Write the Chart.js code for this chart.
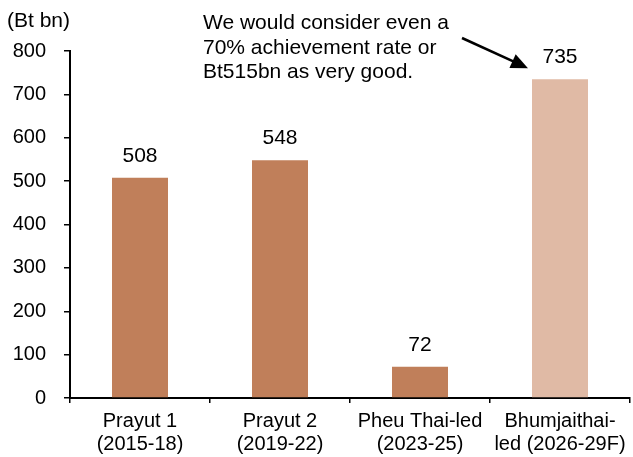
<!DOCTYPE html>
<html>
<head>
<meta charset="utf-8">
<script src="https://cdn.jsdelivr.net/npm/chart.js@4/dist/chart.umd.min.js"></script>
<style>
  html, body { margin: 0; padding: 0; background: #fff; }
  #wrap { width: 633px; height: 457px; }
</style>
</head>
<body>
<div id="wrap"><canvas id="canvas" width="633" height="457"></canvas></div>
<script>
var categories = [["Prayut 1", "(2015-18)"], ["Prayut 2", "(2019-22)"], ["Pheu Thai-led", "(2023-25)"], ["Bhumjaithai-", "led (2026-29F)"]];
var budgetValues = [508, 548, 72, 735];
var barColors = ["#C07F5A", "#C07F5A", "#C07F5A", "#E0BAA5"];
var yTicks = [0, 100, 200, 300, 400, 500, 600, 700, 800];
var noteLines = ["We would consider even a", "70% achievement rate or", "Bt515bn as very good."];
var unitLabel = "(Bt bn)";

var FONT = "'Liberation Sans', Arial, sans-serif";

// value labels, unit label, note and arrow
var extrasPlugin = {
    id: "extras",
    afterDatasetsDraw: function (chart) {
        var ctx = chart.ctx;
        var meta = chart.getDatasetMeta(0);
        ctx.save();
        ctx.fillStyle = "#000";
        ctx.font = "21px " + FONT;
        ctx.textAlign = "center";
        ctx.textBaseline = "alphabetic";
        meta.data.forEach(function (bar, i) {
            ctx.fillText(String(budgetValues[i]), bar.x, bar.y - 16);
        });

        ctx.textAlign = "left";
        ctx.fillText(unitLabel, 7, 27);

        noteLines.forEach(function (line, i) {
            ctx.fillText(line, 203, 29 + i * 24.5);
        });

        // arrow pointing at the last bar's label
        var last = meta.data[meta.data.length - 1];
        var x1 = 462, y1 = 38;
        var x2 = last.x - 32, y2 = last.y - 11;
        var ang = Math.atan2(y2 - y1, x2 - x1);
        var c = Math.cos(ang), s = Math.sin(ang);
        ctx.strokeStyle = "#000";
        ctx.lineWidth = 2.5;
        ctx.beginPath();
        ctx.moveTo(x1, y1);
        ctx.lineTo(x2 - 12 * c, y2 - 12 * s);
        ctx.stroke();
        ctx.beginPath();
        ctx.moveTo(x2, y2);
        ctx.lineTo(x2 - 17 * c + 7.5 * s, y2 - 17 * s - 7.5 * c);
        ctx.lineTo(x2 - 17 * c - 7.5 * s, y2 - 17 * s + 7.5 * c);
        ctx.closePath();
        ctx.fillStyle = "#000";
        ctx.fill();
        ctx.restore();
    }
};

var ctx = document.getElementById("canvas").getContext("2d");
var myChart = new Chart(ctx, {
    type: "bar",
    data: {
        labels: categories,
        datasets: [{
            data: budgetValues,
            backgroundColor: barColors,
            borderWidth: 0,
            barPercentage: 0.4,
            categoryPercentage: 1.0
        }]
    },
    options: {
        responsive: false,
        animation: false,
        events: [],
        layout: { padding: { top: 51, right: 3, left: 0, bottom: 0 } },
        plugins: {
            legend: { display: false },
            tooltip: { enabled: false }
        },
        scales: {
            x: {
                grid: {
                    display: true,
                    offset: true,
                    drawOnChartArea: false,
                    drawTicks: true,
                    tickLength: 5,
                    color: "#000",
                    lineWidth: 1.5
                },
                border: { display: true, color: "#000", width: 2 },
                ticks: {
                    color: "#000",
                    font: { family: FONT, size: 20, lineHeight: 1.15 },
                    maxRotation: 0,
                    autoSkip: false,
                    padding: 7
                },
                afterFit: function (scale) { scale.height = 59; }
            },
            y: {
                min: 0,
                max: 800,
                afterBuildTicks: function (scale) {
                    scale.ticks = yTicks.map(function (v) { return { value: v }; });
                },
                grid: {
                    display: true,
                    drawOnChartArea: false,
                    drawTicks: true,
                    tickLength: 6,
                    color: "#000",
                    lineWidth: 1.5
                },
                border: { display: true, color: "#000", width: 2 },
                ticks: {
                    color: "#000",
                    font: { family: FONT, size: 20 },
                    padding: 18
                },
                afterFit: function (scale) { scale.width = 70; }
            }
        }
    },
    plugins: [extrasPlugin]
});
</script>
</body>
</html>
